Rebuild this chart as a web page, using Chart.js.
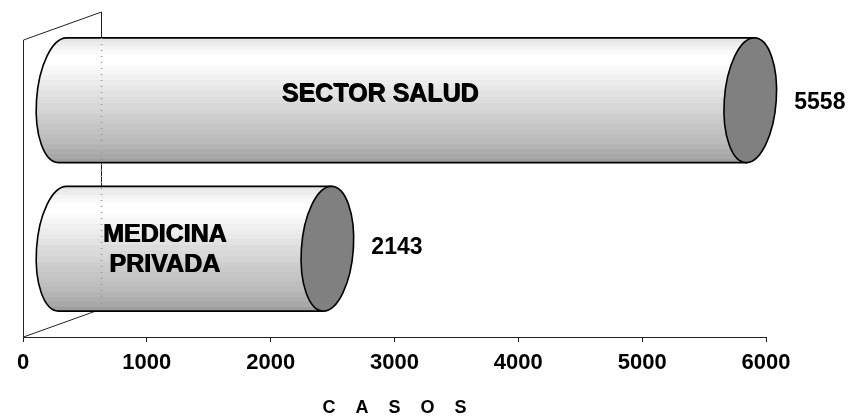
<!DOCTYPE html>
<html lang="es">
<head>
    <meta charset="UTF-8">
    <title>Casos por sector</title>
    <script src="https://cdn.jsdelivr.net/npm/chart.js"></script>
    <style>
        body { margin: 0; padding: 0; background-color: #fff; }
        canvas { display: block; }
    </style>
</head>
<body>
    <canvas id="myChart" width="850" height="417"></canvas>

    <script>
        const categories = [['SECTOR SALUD'], ['MEDICINA', 'PRIVADA']];
        const casos = [5558, 2143];
        const tickValues = [0, 1000, 2000, 3000, 4000, 5000, 6000];

        const FONT = '"Liberation Sans", Arial, sans-serif';
        const DEPTH_X = 78, DEPTH_Y = 28;     // fondo de la caja 3D
        const CAP_RX = 26, CAP_SKEW = -0.065;

        // bandas del cilindro: [posicion, gris]
        const bands = [[0, 230], [.03, 236], [.067, 244], [.1, 250], [.133, 255], [.22, 250], [.26, 245], [.3, 240],
            [.34, 236], [.38, 232], [.42, 226], [.47, 220], [.52, 216], [.57, 212], [.61, 206], [.65, 202], [.69, 198],
            [.73, 194], [.77, 190], [.81, 186], [.85, 180], [.89, 174], [.93, 168], [.97, 158]];

        function capPath(ctx, cx, cy, ry) {
            ctx.save();
            ctx.transform(1, 0, CAP_SKEW, 1, cx, cy);
            ctx.ellipse(0, 0, CAP_RX, ry, 0, 0, Math.PI * 2);
            ctx.restore();
        }

        const cylinders = {
            id: 'cylinders',
            beforeDatasetsDraw(chart) {
                const { ctx, chartArea: a } = chart;
                // paredes
                ctx.save();
                ctx.strokeStyle = '#222';
                ctx.lineWidth = 1;
                ctx.beginPath();
                ctx.moveTo(a.left + .5, a.bottom);
                ctx.lineTo(a.left + .5, a.top);
                ctx.lineTo(a.left + DEPTH_X + .5, a.top - DEPTH_Y);
                ctx.lineTo(a.left + DEPTH_X + .5, a.bottom - DEPTH_Y);
                ctx.lineTo(a.left + .5, a.bottom);
                ctx.stroke();
                ctx.restore();
            },
            afterDatasetsDraw(chart) {
                const { ctx, chartArea: a } = chart;
                const bars = chart.getDatasetMeta(0).data;
                bars.forEach((bar, i) => {
                    const ry = bar.height / 2;
                    const cy = bar.y - DEPTH_Y / 2;
                    const x0 = bar.base + DEPTH_X / 2;
                    const x1 = bar.x + DEPTH_X / 2;
                    const top = cy - ry, h = bar.height;

                    // cuerpo
                    ctx.save();
                    const body = new Path2D();
                    const kappa = 0.5523;
                    const tx = -ry * CAP_SKEW, bx = ry * CAP_SKEW;
                    body.moveTo(x1 + tx, top);
                    body.lineTo(x0 + tx, top);
                    body.bezierCurveTo(x0 + tx - CAP_RX * kappa, top, x0 - CAP_RX + tx * kappa, cy - ry * kappa, x0 - CAP_RX, cy);
                    body.bezierCurveTo(x0 - CAP_RX + bx * kappa, cy + ry * kappa, x0 + bx - CAP_RX * kappa, top + h, x0 + bx, top + h);
                    body.lineTo(x1 + bx, top + h);
                    body.closePath();

                    const grad = ctx.createLinearGradient(0, top, 0, top + h);
                    bands.forEach((b, j) => {
                        const g = b[1];
                        const next = j + 1 < bands.length ? bands[j + 1][0] : 1;
                        grad.addColorStop(b[0], `rgb(${g},${g},${g})`);
                        grad.addColorStop(next, `rgb(${g},${g},${g})`);
                    });
                    ctx.fillStyle = grad;
                    ctx.fill(body);
                    ctx.strokeStyle = '#000';
                    ctx.lineWidth = 1.6;
                    ctx.stroke(body);

                    // tapa
                    ctx.beginPath();
                    capPath(ctx, x1, cy, ry);
                    ctx.fillStyle = '#808080';
                    ctx.fill();
                    ctx.stroke();

                    // valor
                    ctx.fillStyle = '#000';
                    ctx.font = 'bold 23px ' + FONT;
                    ctx.textAlign = 'left';
                    ctx.textBaseline = 'middle';
                    ctx.fillText(String(casos[i]), x1 + CAP_RX + 18, cy + (i === 0 ? 2 : -1));

                    // nombre con doble trazo
                    const lines = categories[i];
                    const lx = (x0 - CAP_RX + x1 - CAP_RX) / 2 - (lines.length > 1 ? 4 : 0);
                    const ly = lines.length === 1 ? cy - 6 : cy + 1;
                    ctx.font = 'bold 25px ' + FONT;
                    ctx.textAlign = 'center';
                    ctx.fillStyle = '#000';
                    lines.forEach((t, k) => {
                        const y = ly + (k - (lines.length - 1) / 2) * 30;
                        ctx.fillText(t, lx + .5, y + .5);
                        ctx.fillText(t, lx - .5, y);
                    });
                });

                // linea de la pared vista a traves de las barras
                const first = bars[0], last = bars[bars.length - 1];
                ctx.save();
                ctx.strokeStyle = '#9a9a9a';
                ctx.setLineDash([1, 5]);
                ctx.beginPath();
                ctx.moveTo(a.left + DEPTH_X + .5, first.y - DEPTH_Y / 2 - first.height / 2);
                ctx.lineTo(a.left + DEPTH_X + .5, last.y - DEPTH_Y / 2 + last.height / 2);
                ctx.stroke();
                ctx.restore();
            }
        };

        new Chart(document.getElementById('myChart').getContext('2d'), {
            type: 'bar',
            data: {
                labels: categories,
                datasets: [{
                    data: casos,
                    backgroundColor: 'transparent',
                    barPercentage: 0.84,
                    categoryPercentage: 1
                }]
            },
            options: {
                indexAxis: 'y',
                responsive: false,
                animation: false,
                layout: { padding: { left: 23, right: 84, top: 40, bottom: 0 } },
                plugins: { legend: { display: false }, tooltip: { enabled: false } },
                scales: {
                    y: { display: false },
                    x: {
                        min: 0,
                        max: 6000,
                        afterBuildTicks: s => { s.ticks = tickValues.map(v => ({ value: v })); },
                        afterFit: s => { s.height = 80; },
                        grid: { drawOnChartArea: false, color: '#222', tickLength: 5 },
                        border: { color: '#222' },
                        ticks: {
                            maxRotation: 0,
                            color: '#000',
                            padding: 8,
                            callback: v => String(v),
                            font: { family: FONT, size: 22, weight: 'bold' }
                        },
                        title: {
                            display: true,
                            text: 'C    A    S    O    S',
                            color: '#000',
                            padding: { top: 18, bottom: -2 },
                            font: { family: FONT, size: 18, weight: 'bold' }
                        }
                    }
                }
            },
            plugins: [cylinders]
        });
    </script>
</body>
</html>
